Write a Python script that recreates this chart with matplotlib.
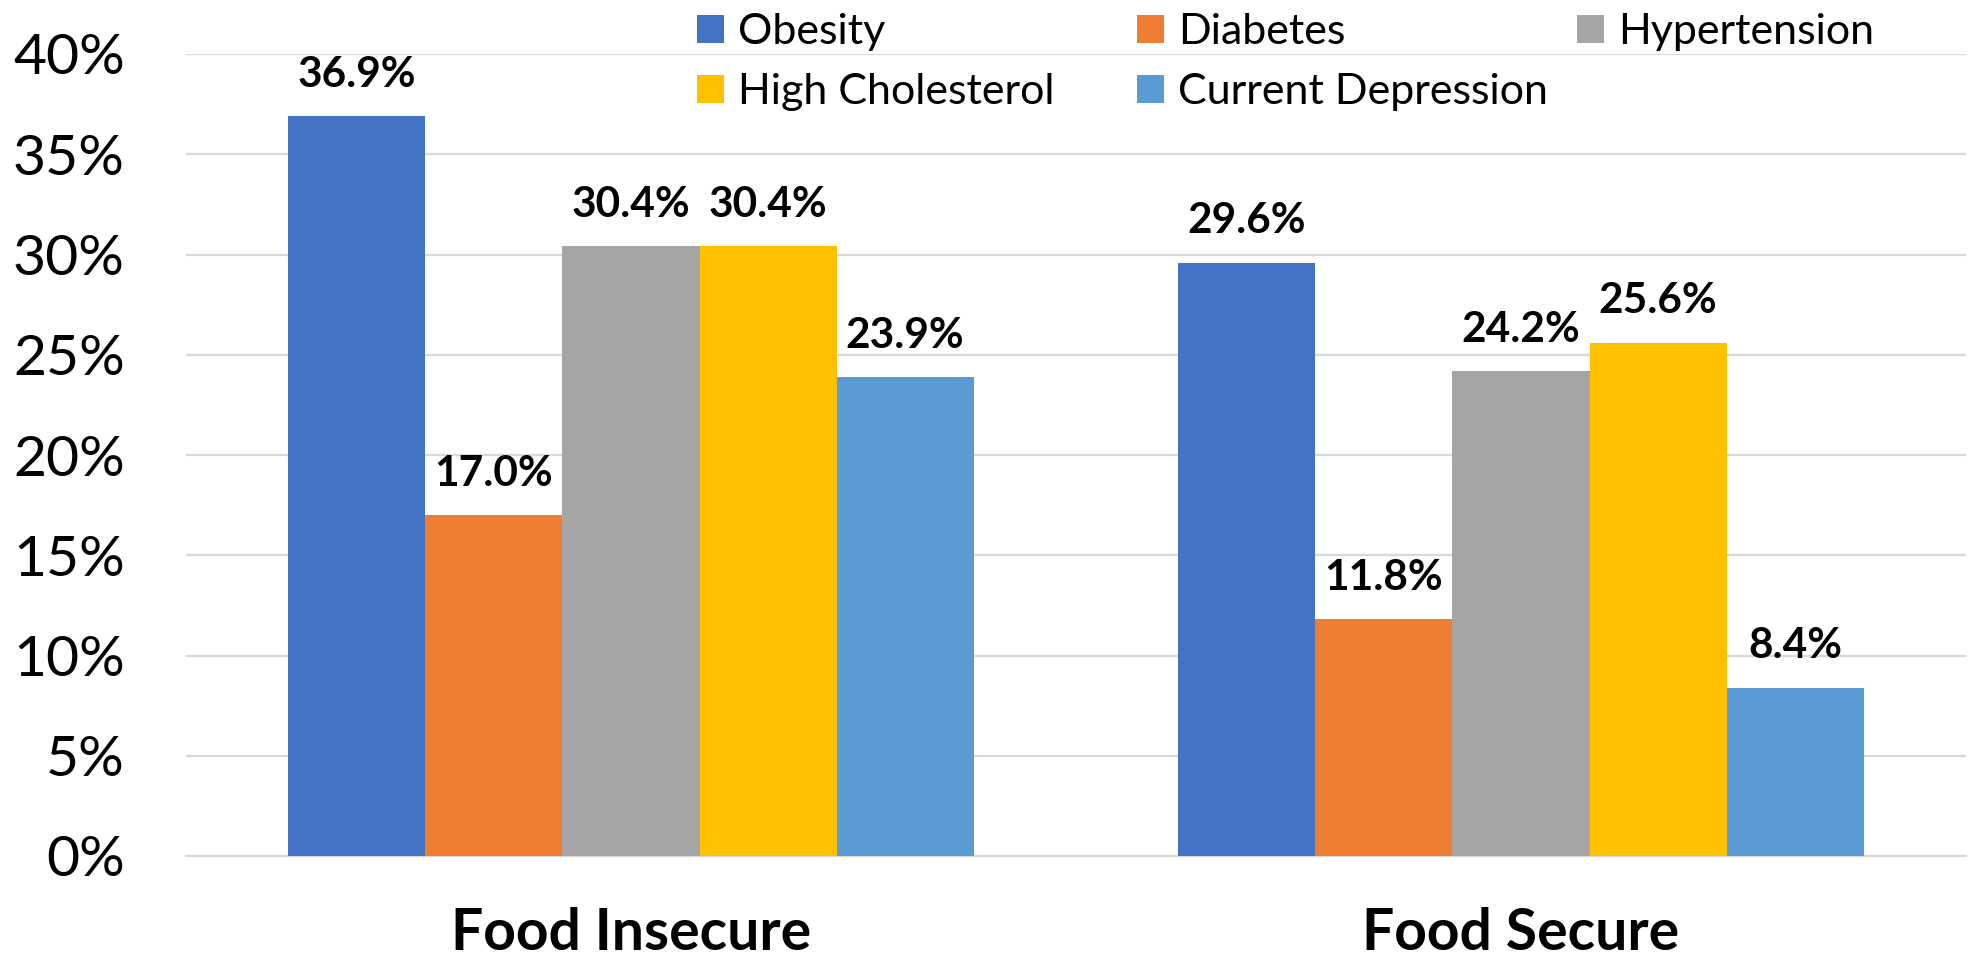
import matplotlib
matplotlib.use("Agg")
import matplotlib.pyplot as plt
import numpy as np

# ---- data ----
categories = ["Food Insecure", "Food Secure"]
series_names = ["Obesity", "Diabetes", "Hypertension", "High Cholesterol", "Current Depression"]
obesity = [36.9, 29.6]
diabetes = [17.0, 11.8]
hypertension = [30.4, 24.2]
high_cholesterol = [30.4, 25.6]
current_depression = [23.9, 8.4]
y_ticks = [0, 5, 10, 15, 20, 25, 30, 35, 40]

series_values = [obesity, diabetes, hypertension, high_cholesterol, current_depression]
colors = ["#4472C4", "#ED7D31", "#A5A5A5", "#FFC000", "#5B9BD5"]

plt.rcParams['font.family'] = ['Lato', 'DejaVu Sans']

W, H = 1970, 961
fig = plt.figure(figsize=(W / 100, H / 100), dpi=100)
ax = fig.add_axes([186 / W, 105 / H, 1780 / W, 802 / H])

x = np.arange(len(categories))
bw = 0.154
handles = []
for i, (name, vals, c) in enumerate(zip(series_names, series_values, colors)):
    bars = ax.bar(x + (i - 2) * bw, vals, width=bw, color=c, label=name, zorder=3)
    ax.bar_label(bars, labels=[f"{v:.1f}%" for v in vals], padding=16,
                 fontsize=30.5, fontweight='bold', color='black')
    handles.append(bars)

ax.set_xlim(-0.5, 1.5)
ax.set_ylim(0, 40)
ax.set_yticks(y_ticks)
ax.set_yticklabels([f"{t}%" for t in y_ticks])
ax.set_xticks(x)
ax.set_xticklabels(categories, fontsize=41, fontweight='bold')
ax.tick_params(axis='y', length=0, pad=44, labelsize=41, labelcolor='black')
ax.tick_params(axis='x', length=0, pad=37)
ax.grid(axis='y', color='#D9D9D9', linewidth=1.6, zorder=0)
for s in ['top', 'right', 'left']:
    ax.spines[s].set_visible(False)
ax.spines['bottom'].set_color('#D9D9D9')
ax.spines['bottom'].set_linewidth(1.6)

# legend: three columns of equal width
col_x = [697, 1137, 1577]
col_items = [[0, 3], [1, 4], [2]]
for cx, items in zip(col_x, col_items):
    leg = fig.legend([handles[k] for k in items], [series_names[k] for k in items],
                     loc='upper left', bbox_to_anchor=(cx / W, 1 - 13 / H),
                     frameon=False, fontsize=31, handlelength=0.63, handleheight=0.63,
                     handletextpad=0.33, labelspacing=0.51, borderpad=0, borderaxespad=0)

fig.savefig("out.png", dpi=100)
